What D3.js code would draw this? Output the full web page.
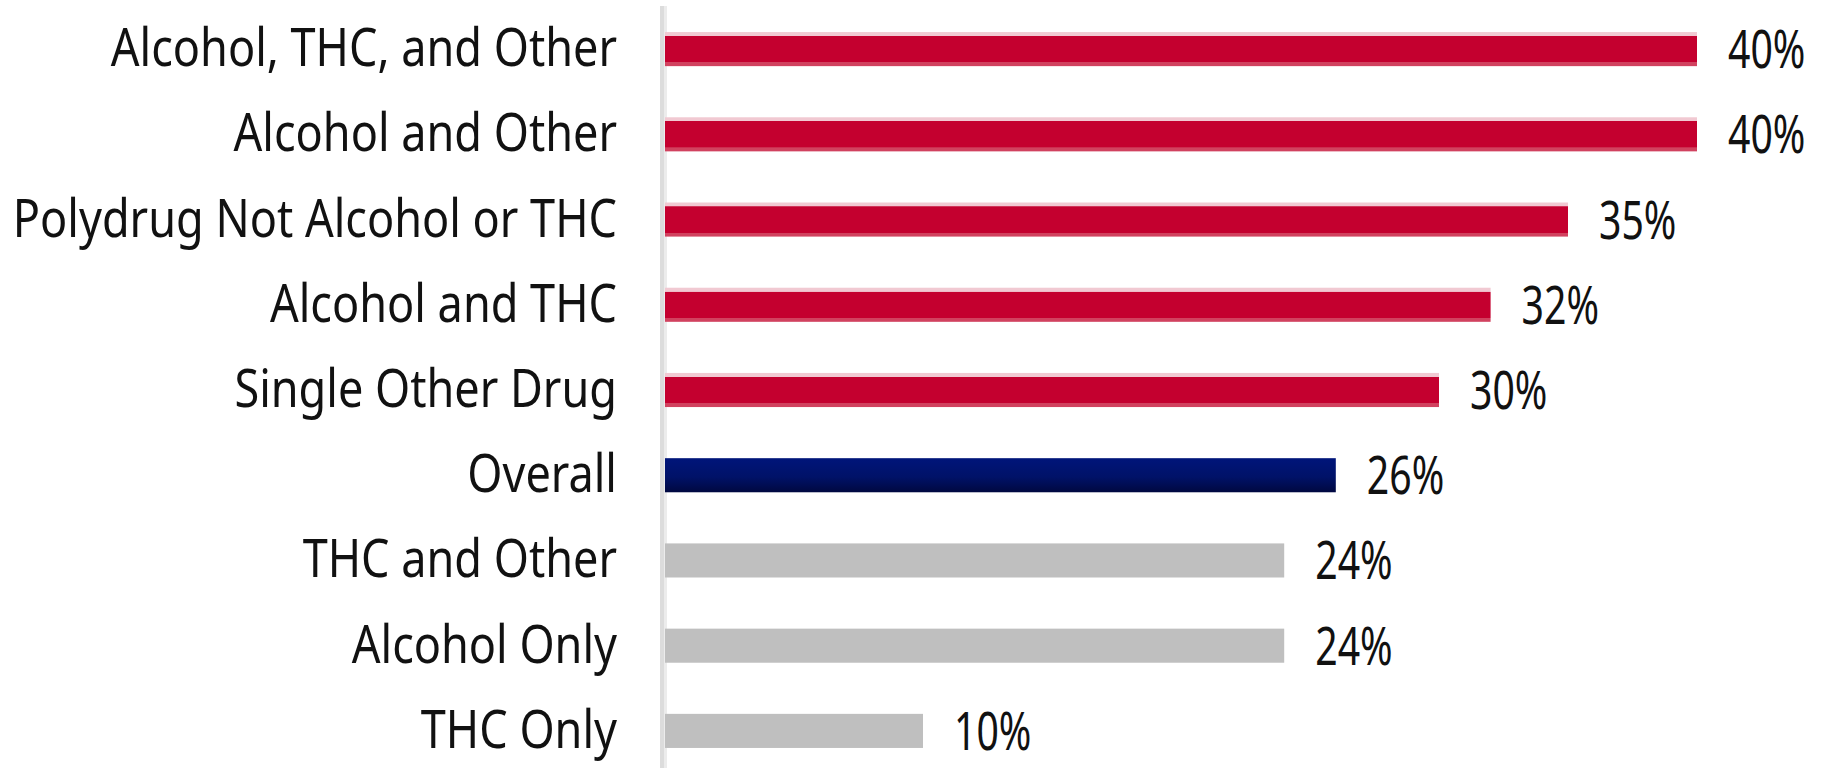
<!DOCTYPE html>
<html>
<head>
<meta charset="utf-8">
<script src="https://cdn.jsdelivr.net/npm/d3@7"></script>
<style>
  body { margin: 0; background: #fff; }
  text { font-family: "Noto Sans", "Open Sans", sans-serif; fill: #111; }
</style>
</head>
<body>
<div id="my_dataviz"></div>
<script>
// categories top to bottom, with their values (%) and colour group
var categories = ["Alcohol, THC, and Other", "Alcohol and Other", "Polydrug Not Alcohol or THC",
                  "Alcohol and THC", "Single Other Drug", "Overall", "THC and Other",
                  "Alcohol Only", "THC Only"];
var values = [40, 40, 35, 32, 30, 26, 24, 24, 10];
var groups = ["red", "red", "red", "red", "red", "navy", "gray", "gray", "gray"];
var valueLabels = ["40%", "40%", "35%", "32%", "30%", "26%", "24%", "24%", "10%"];

var W = 1825, H = 768;

var svg = d3.select("#my_dataviz")
  .append("svg")
    .attr("width", W)
    .attr("height", H);

// gradients for the bar fills
var defs = svg.append("defs");
var red = defs.append("linearGradient").attr("id", "gRed")
  .attr("x1", 0).attr("y1", 0).attr("x2", 0).attr("y2", 1);
[[0, "#f1c9d2"], [0.11, "#f1c9d2"], [0.12, "#c4002f"], [0.88, "#c4002f"], [0.89, "#d1425f"], [1, "#d1425f"]]
  .forEach(function(s) { red.append("stop").attr("offset", s[0]).attr("stop-color", s[1]); });
var navy = defs.append("linearGradient").attr("id", "gNavy")
  .attr("x1", 0).attr("y1", 0).attr("x2", 0).attr("y2", 1);
[[0, "#00157a"], [0.55, "#001268"], [1, "#000840"]]
  .forEach(function(s) { navy.append("stop").attr("offset", s[0]).attr("stop-color", s[1]); });

var fills = { red: "url(#gRed)", navy: "url(#gNavy)", gray: "#bfbfbf" };

// scales
var x = d3.scaleLinear()
  .domain([0, 40])
  .range([665, 1697]);

var y = d3.scaleBand()
  .domain(categories)
  .range([0, 780])
  .paddingInner(0.6)
  .paddingOuter(0.376);

var data = categories.map(function(c, i) {
  return { cat: c, value: values[i], group: groups[i], label: valueLabels[i] };
});

// vertical axis line
svg.append("rect")
  .attr("x", 660).attr("y", 6)
  .attr("width", 4).attr("height", H - 6)
  .attr("fill", "#dcdcdc");
svg.append("rect")
  .attr("x", 664).attr("y", 6)
  .attr("width", 3).attr("height", H - 6)
  .attr("fill", "#ececec");

// bars
svg.append("g")
  .selectAll("rect")
  .data(data)
  .enter().append("rect")
    .attr("x", x(0))
    .attr("y", function(d) { return y(d.cat); })
    .attr("width", function(d) { return x(d.value) - x(0); })
    .attr("height", y.bandwidth())
    .attr("fill", function(d) { return fills[d.group]; });

// category labels (narrow face, so squeeze horizontally)
svg.append("g")
  .selectAll("text")
  .data(data)
  .enter().append("text")
    .attr("transform", function(d) {
      return "translate(617," + (y(d.cat) + y.bandwidth() / 2 + 17) + ") scale(0.85,1)";
    })
    .attr("text-anchor", "end")
    .style("font-size", "53px")
    .text(function(d) { return d.cat; });

// value labels
svg.append("g")
  .selectAll("text")
  .data(data)
  .enter().append("text")
    .attr("transform", function(d) {
      return "translate(" + (x(d.value) + 31) + "," + (y(d.cat) + y.bandwidth() / 2 + 19) + ") scale(0.74,1)";
    })
    .style("font-size", "53px")
    .text(function(d) { return d.label; });
</script>
</body>
</html>
